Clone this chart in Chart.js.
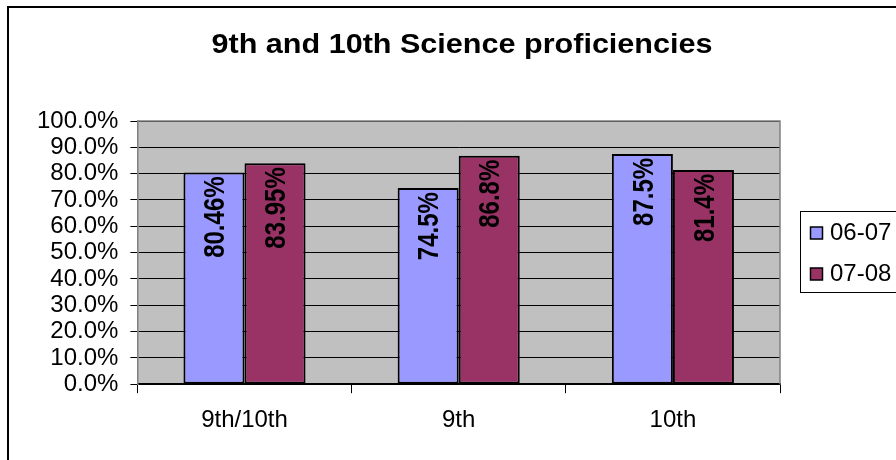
<!DOCTYPE html>
<html>
<head>
<meta charset="utf-8">
<script src="https://cdn.jsdelivr.net/npm/chart.js@4/dist/chart.umd.min.js"></script>
<style>
  html, body { margin: 0; padding: 0; background: #fff; }
  #wrap { width: 896px; height: 460px; position: relative; }
</style>
</head>
<body>
<div id="wrap"><canvas id="myBarChart" width="896" height="460"></canvas></div>
<script>
const chartTitle = "9th and 10th Science proficiencies";
const categories = ["9th/10th", "9th", "10th"];
const seriesNames = ["06-07", "07-08"];
const values0607 = [80.46, 74.5, 87.5];
const values0708 = [83.95, 86.8, 81.4];
const valueLabels0607 = ["80.46%", "74.5%", "87.5%"];
const valueLabels0708 = ["83.95%", "86.8%", "81.4%"];
const yTickLabels = ["0.0%", "10.0%", "20.0%", "30.0%", "40.0%", "50.0%", "60.0%", "70.0%", "80.0%", "90.0%", "100.0%"];

const FONT = "'Liberation Sans', Arial, sans-serif";

// gray plot background, outer frame, plot border, title
const plotArea = {
    id: 'plotArea',
    beforeDraw: function (chart) {
        const c = chart.ctx, a = chart.chartArea;
        c.save();
        c.fillStyle = '#C0C0C0';
        c.fillRect(a.left, a.top, a.right - a.left, a.bottom - a.top);
        c.strokeStyle = '#000';
        c.lineWidth = 2;
        c.strokeRect(8, 7, 900, 470);
        // title, a bit wide like the original
        c.font = "bold 28px " + FONT;
        c.fillStyle = '#000';
        c.textAlign = 'center';
        c.textBaseline = 'middle';
        const w = c.measureText(chartTitle).width;
        c.translate(462, 45);
        c.scale(501 / w, 1);
        c.fillText(chartTitle, 0, 0);
        c.restore();
    },
    afterDatasetsDraw: function (chart) {
        const c = chart.ctx, a = chart.chartArea;
        c.save();
        c.strokeStyle = '#808080';
        c.lineWidth = 1.5;
        c.beginPath();
        c.moveTo(a.left, a.top);
        c.lineTo(a.right, a.top);
        c.lineTo(a.right, a.bottom);
        c.stroke();
        c.restore();
    }
};

// rotated value labels inside the bar tops
const barLabels = {
    id: 'barLabels',
    afterDatasetsDraw: function (chart) {
        const c = chart.ctx;
        c.save();
        c.font = "bold 24px " + FONT;
        c.fillStyle = '#000';
        c.textAlign = 'right';
        c.textBaseline = 'middle';
        chart.data.datasets.forEach(function (ds, i) {
            chart.getDatasetMeta(i).data.forEach(function (bar, j) {
                c.save();
                c.translate(bar.x + 1, bar.y + 4);
                c.scale(1.2, 1);
                c.rotate(-Math.PI / 2);
                c.fillText(ds.valueLabels[j], 0, 1);
                c.restore();
            });
        });
        c.restore();
    }
};

// boxed legend on the right
const boxLegend = {
    id: 'boxLegend',
    afterDraw: function (chart) {
        const c = chart.ctx;
        const x = 800, y = 211;
        c.save();
        c.strokeStyle = '#000';
        c.lineWidth = 1;
        c.fillStyle = '#fff';
        c.fillRect(x + 0.5, y + 0.5, 110, 81);
        c.strokeRect(x + 0.5, y + 0.5, 110, 81);
        c.font = "24px " + FONT;
        c.textBaseline = 'middle';
        chart.data.datasets.forEach(function (ds, i) {
            const cy = y + 22 + i * 41;
            c.fillStyle = ds.backgroundColor;
            c.fillRect(810.5, cy - 6, 12, 12);
            c.strokeStyle = '#000';
            c.lineWidth = 1.5;
            c.strokeRect(810.5, cy - 6, 12, 12);
            c.fillStyle = '#000';
            c.fillText(ds.label, 830, cy);
        });
        c.restore();
    }
};

var ctx = document.getElementById("myBarChart");
var myBarChart = new Chart(ctx, {
    type: 'bar',
    data: {
        labels: categories,
        datasets: [{
            label: seriesNames[0],
            data: values0607,
            valueLabels: valueLabels0607,
            backgroundColor: '#9999FF',
            borderColor: '#000',
            borderWidth: 2,
            borderSkipped: false
        }, {
            label: seriesNames[1],
            data: values0708,
            valueLabels: valueLabels0708,
            backgroundColor: '#993366',
            borderColor: '#000',
            borderWidth: 2,
            borderSkipped: false
        }]
    },
    options: {
        responsive: false,
        animation: false,
        layout: {
            padding: { left: 25, right: 116, top: 121, bottom: 12 }
        },
        plugins: {
            legend: { display: false },
            tooltip: { enabled: false },
            title: { display: false }
        },
        datasets: {
            bar: { barPercentage: 1.0, categoryPercentage: 0.57 }
        },
        scales: {
            x: {
                grid: {
                    offset: true,
                    drawOnChartArea: false,
                    drawTicks: true,
                    tickLength: 9,
                    color: '#000',
                    lineWidth: 1
                },
                border: { color: '#000', width: 1.5 },
                ticks: {
                    color: '#000',
                    font: { family: FONT, size: 24 },
                    padding: 13
                }
            },
            y: {
                min: 0,
                max: 100,
                grid: {
                    color: '#000',
                    lineWidth: 1,
                    tickLength: 7
                },
                border: { color: '#808080', width: 1.5 },
                ticks: {
                    stepSize: 10,
                    autoSkip: false,
                    color: '#000',
                    font: { family: FONT, size: 24 },
                    padding: 12,
                    callback: function (value, index) {
                        return yTickLabels[index];
                    }
                }
            }
        }
    },
    plugins: [plotArea, barLabels, boxLegend]
});
</script>
</body>
</html>
